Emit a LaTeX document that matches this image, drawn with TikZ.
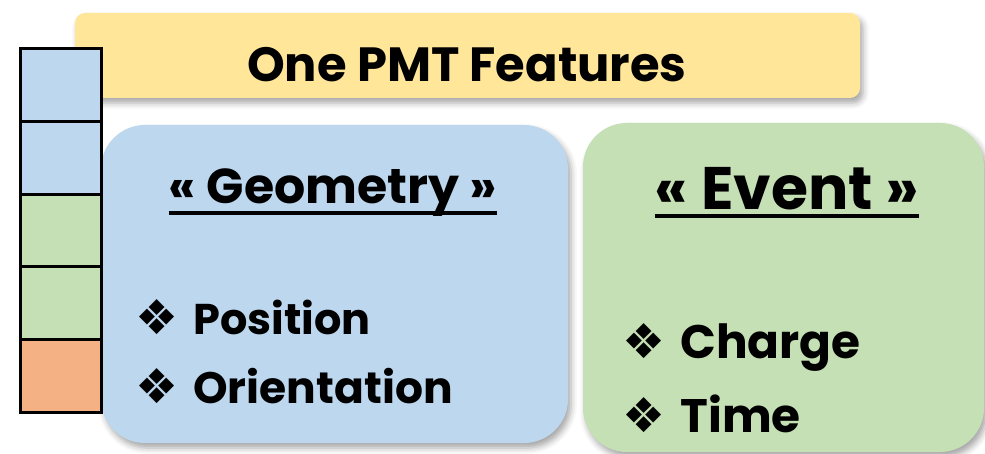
\documentclass[tikz,border=0pt]{standalone}
\usepackage{fontspec}
\setmainfont{Poppins}[BoldFont={* Bold}]
\newfontfamily\dejavu{DejaVu Sans}
\usetikzlibrary{fit,shadows.blur}

\definecolor{bannerYellow}{HTML}{FFE699}
\definecolor{cellBlue}{HTML}{BDD7EE}
\definecolor{cellGreen}{HTML}{C5E0B4}
\definecolor{cellOrange}{HTML}{F4B183}

\newcommand\bul{\makebox[29pt][l]{\fontsize{24pt}{24pt}\dejavu\raisebox{0pt}{❖}}}

\tikzset{
  panel/.style={inner sep=0,outer sep=0,draw=none,rounded corners=22pt,
    blur shadow={shadow xshift=1.5pt,shadow yshift=-2.5pt,shadow blur radius=3pt,shadow opacity=35}},
  cell/.style={draw=black,line width=1.5pt,inner sep=0,outer sep=0,
    minimum width=40.5pt,minimum height=36.3pt,anchor=north west},
  heading/.style={font=\bfseries\fontsize{24pt}{24pt}\selectfont,inner sep=0,anchor=base},
  item/.style={font=\bfseries\fontsize{21.5pt}{21.5pt}\selectfont,inner sep=0,anchor=base west},
  uline/.style={line width=2pt}
}

\begin{document}
\begin{tikzpicture}[x=0.5pt,y=-0.5pt]
	\useasboundingbox (0,0) rectangle (985,454);
	\node[panel,rounded corners=5pt,fill=bannerYellow,fit={(75,13) (860,98)}] (banner) {};
	\node[heading] (bannertext) at (467,82) {One PMT Features};
	\node[panel,fill=cellBlue,fit={(101,125) (568,443)}] (geo) {};
	\node[panel,fill=cellGreen,fit={(583,123) (984,452)}] (event) {};
	% geometry features
	\node[heading,font=\bfseries\fontsize{24.5pt}{24.5pt}\selectfont] (geotitle) at (333,204) {« Geometry »};
	\draw[uline] (geotitle.base west) ++(0,9) coordinate (g1) -- (geotitle.base east |- g1);
	\node[item] (pos) at (135,335) {\bul Position};
	\node[item,font=\bfseries\fontsize{22pt}{22pt}\selectfont] (ori) at (135,403) {\bul Orientation};
	% event features
	\node[heading,font=\bfseries\fontsize{30pt}{30pt}\selectfont] (evtitle) at (787,210) {« Event »};
	\draw[uline] (evtitle.base west) ++(0,6) coordinate (e1) -- (evtitle.base east |- e1);
	\node[item,font=\bfseries\fontsize{23.5pt}{23.5pt}\selectfont] (charge) at (622,358) {\bul Charge};
	\node[item,font=\bfseries\fontsize{23.5pt}{23.5pt}\selectfont] (time) at (622,432) {\bul Time};
	% one PMT vector
	\foreach \c [count=\i] in {cellBlue,cellBlue,cellGreen,cellGreen,cellOrange}
		\node[cell,fill=\c] (cell\i) at (20,{49+72.6*(\i-1)}) {};
\end{tikzpicture}
\end{document}
